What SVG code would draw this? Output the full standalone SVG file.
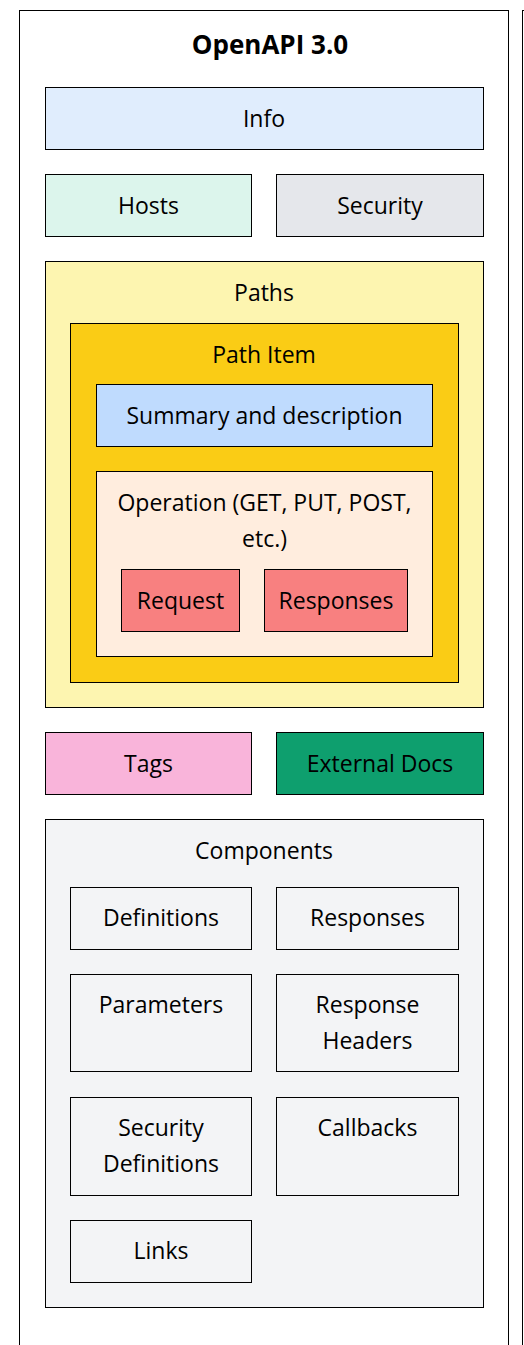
<svg xmlns="http://www.w3.org/2000/svg" width="524" height="1345" viewBox="0 0 524 1345">
<style>
rect{stroke:#000;stroke-width:1}
text{font-family:"Open Sans","Noto Sans","Liberation Sans",sans-serif;font-size:23px;fill:#000;text-anchor:middle;dominant-baseline:central}
.t{font-weight:bold;font-size:26px}
</style>
<rect width="524" height="1345" fill="#fff" style="stroke:none"/>
<g id="frame2"><rect x="522.5" y="10.5" width="40" height="1400" fill="#fff"/></g>
<g id="root"><rect x="19.5" y="10.5" width="489" height="1400" fill="#fff"/><text class="t" x="270" y="44">OpenAPI 3.0</text></g>
<g id="info"><rect x="45.5" y="87.5" width="438" height="62" fill="#e0edfd"/><text x="264" y="118">Info</text></g>
<g id="hosts"><rect x="45.5" y="174.5" width="206" height="62" fill="#dcf5ec"/><text x="148.5" y="205">Hosts</text></g>
<g id="security"><rect x="276.5" y="174.5" width="207" height="62" fill="#e5e7eb"/><text x="380" y="205">Security</text></g>
<g id="paths"><rect x="45.5" y="261.5" width="438" height="446" fill="#fdf5b0"/><text x="264" y="292">Paths</text></g>
<g id="pathitem"><rect x="70.5" y="323.5" width="388" height="359" fill="#facc15"/><text x="264" y="354">Path Item</text></g>
<g id="summary"><rect x="96.5" y="384.5" width="336" height="62" fill="#bfdbfe"/><text x="264.5" y="415">Summary and description</text></g>
<g id="operation"><rect x="96.5" y="471.5" width="336" height="185" fill="#ffedde"/><text x="264.5" y="502">Operation (GET, PUT, POST,</text><text x="264.5" y="538">etc.)</text></g>
<g id="request"><rect x="121.5" y="569.5" width="118" height="62" fill="#f88080"/><text x="180.5" y="600">Request</text></g>
<g id="responses1"><rect x="264.5" y="569.5" width="143" height="62" fill="#f88080"/><text x="336" y="600">Responses</text></g>
<g id="tags"><rect x="45.5" y="732.5" width="206" height="62" fill="#f9b4da"/><text x="148.5" y="763">Tags</text></g>
<g id="extdocs"><rect x="276.5" y="732.5" width="207" height="62" fill="#0e9f6e"/><text x="380" y="763">External Docs</text></g>
<g id="components"><rect x="45.5" y="819.5" width="438" height="488" fill="#f3f4f6"/><text x="264" y="850">Components</text></g>
<g id="definitions"><rect x="70.5" y="887.5" width="181" height="62" fill="#f3f4f6"/><text x="161" y="917">Definitions</text></g>
<g id="responses2"><rect x="276.5" y="887.5" width="182" height="62" fill="#f3f4f6"/><text x="367.5" y="917">Responses</text></g>
<g id="parameters"><rect x="70.5" y="974.5" width="181" height="97" fill="#f3f4f6"/><text x="161" y="1004">Parameters</text></g>
<g id="respheaders"><rect x="276.5" y="974.5" width="182" height="97" fill="#f3f4f6"/><text x="367.5" y="1004">Response</text><text x="367.5" y="1040">Headers</text></g>
<g id="secdefs"><rect x="70.5" y="1097.5" width="181" height="98" fill="#f3f4f6"/><text x="161" y="1127">Security</text><text x="161" y="1163">Definitions</text></g>
<g id="callbacks"><rect x="276.5" y="1097.5" width="182" height="98" fill="#f3f4f6"/><text x="367.5" y="1127">Callbacks</text></g>
<g id="links"><rect x="70.5" y="1220.5" width="181" height="62" fill="#f3f4f6"/><text x="161" y="1250">Links</text></g>
<g id="connectors"></g>
</svg>
